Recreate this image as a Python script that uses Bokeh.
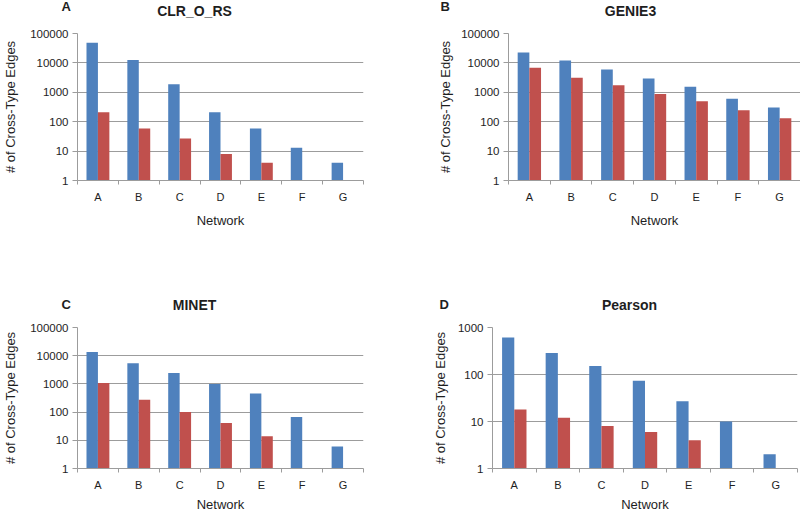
from bokeh.plotting import figure
from bokeh.layouts import column, row
from bokeh.models import Range1d, FixedTicker, PrintfTickFormatter, Label
from bokeh.embed import file_html
from bokeh.resources import INLINE

# ---- data ----
networks = ["A", "B", "C", "D", "E", "F", "G"]

clr_series1 = [48000, 12500, 1870, 208, 59, 13, 4]
clr_series2 = [208, 59, 27, 8, 4, 0, 0]

genie3_series1 = [22500, 12000, 6000, 2950, 1540, 600, 305]
genie3_series2 = [6800, 3100, 1750, 870, 500, 246, 132]

minet_series1 = [13400, 5400, 2450, 1000, 460, 67, 6]
minet_series2 = [1070, 275, 100, 41, 14, 0, 0]

pearson_series1 = [615, 286, 152, 74, 27, 10, 2]
pearson_series2 = [18, 12, 8, 6, 4, 0, 0]

yticks_wide = [1, 10, 100, 1000, 10000, 100000]
yticks_narrow = [1, 10, 100, 1000]

panel_letters = ["A", "B", "C", "D"]
panel_titles = ["CLR_O_RS", "GENIE3", "MINET", "Pearson"]
y_title = "# of Cross-Type Edges"
x_title = "Network"

# ---- styling ----
BLUE = "#4F81BD"
RED = "#C0504D"
GRID = "#9c9c9c"
TXT = "#1e1e1e"
FONT = "Liberation Sans"
BAR_W = 0.28


def make_strip(w, h, letter, letter_x, letter_y, title, title_x, title_y):
    s = figure(width=w, height=h, output_backend="svg", toolbar_location=None,
               title=None, x_range=Range1d(0, w), y_range=Range1d(0, h),
               x_axis_location=None, y_axis_location=None,
               min_border=0, min_border_left=0, min_border_right=0,
               min_border_top=0, min_border_bottom=0)
    s.outline_line_color = None
    s.grid.visible = False
    s.background_fill_color = "white"
    s.border_fill_color = "white"
    s.add_layout(Label(x=letter_x, y=letter_y, x_units="screen", y_units="screen",
                       text=letter, text_font=FONT, text_font_size="13px",
                       text_font_style="bold", text_color=TXT,
                       text_align="left", text_baseline="middle"))
    s.add_layout(Label(x=title_x, y=title_y, x_units="screen", y_units="screen",
                       text=title, text_font=FONT, text_font_size="14px",
                       text_font_style="bold", text_color=TXT,
                       text_align="center", text_baseline="middle"))
    return s


def make_panel(s1, s2, yticks, w, h, borders, ylab_standoff, tick_standoff,
               xlab_standoff):
    bl, br, bt, bb = borders
    p = figure(width=w, height=h, output_backend="svg", toolbar_location=None,
               title=None, x_range=Range1d(0, len(networks)),
               y_range=Range1d(yticks[0], yticks[-1]), y_axis_type="log",
               min_border_left=bl, min_border_right=br,
               min_border_top=bt, min_border_bottom=bb)
    p.outline_line_color = None
    p.background_fill_color = "white"
    p.border_fill_color = "white"

    # bars (zero values are not drawn on the log axis)
    x1, t1, x2, t2 = [], [], [], []
    for i, (a, b) in enumerate(zip(s1, s2)):
        if a > 0:
            x1.append(i + 0.5 - BAR_W / 2)
            t1.append(a)
        if b > 0:
            x2.append(i + 0.5 + BAR_W / 2)
            t2.append(b)
    p.vbar(x=x1, top=t1, bottom=1, width=BAR_W, fill_color=BLUE, line_color=None)
    p.vbar(x=x2, top=t2, bottom=1, width=BAR_W, fill_color=RED, line_color=None)

    # y axis
    yt = FixedTicker(ticks=yticks, minor_ticks=[])
    p.yaxis.ticker = yt
    p.yaxis.formatter = PrintfTickFormatter(format="%d")
    p.yaxis.axis_line_color = GRID
    p.yaxis.major_tick_line_color = GRID
    p.yaxis.major_tick_out = 5
    p.yaxis.major_tick_in = 0
    p.yaxis.minor_tick_line_color = None
    p.yaxis.major_label_standoff = 4
    p.yaxis.major_label_text_font = FONT
    p.yaxis.major_label_text_font_size = "11.5px"
    p.yaxis.major_label_text_color = TXT
    p.yaxis.axis_label = y_title
    p.yaxis.axis_label_text_font = FONT
    p.yaxis.axis_label_text_font_size = "13px"
    p.yaxis.axis_label_text_font_style = "normal"
    p.yaxis.axis_label_text_color = TXT
    p.yaxis.axis_label_standoff = ylab_standoff
    p.ygrid.ticker = yt
    p.ygrid.grid_line_color = GRID
    p.ygrid.grid_line_width = 1
    p.xgrid.visible = False

    # x axis: labels at category centres, tick marks at category boundaries
    n = len(networks)
    centres = [i + 0.5 for i in range(n)]
    xt = FixedTicker(ticks=centres, minor_ticks=list(range(n + 1)))
    p.xaxis.ticker = xt
    p.xaxis.major_label_overrides = {c: lab for c, lab in zip(centres, networks)}
    p.xaxis.axis_line_color = GRID
    p.xaxis.major_tick_line_color = None
    p.xaxis.major_tick_out = 0
    p.xaxis.major_tick_in = 0
    p.xaxis.minor_tick_line_color = GRID
    p.xaxis.minor_tick_out = 4
    p.xaxis.minor_tick_in = 0
    p.xaxis.major_label_standoff = tick_standoff
    p.xaxis.major_label_text_font = FONT
    p.xaxis.major_label_text_font_size = "11px"
    p.xaxis.major_label_text_color = TXT
    p.xaxis.axis_label = x_title
    p.xaxis.axis_label_text_font = FONT
    p.xaxis.axis_label_text_font_size = "13px"
    p.xaxis.axis_label_text_font_style = "normal"
    p.xaxis.axis_label_text_color = TXT
    p.xaxis.axis_label_standoff = xlab_standoff
    return p


# top row: strip (page y 0..25) + panels (page y 25..257)
sA = make_strip(400, 25, panel_letters[0], 61, 19, panel_titles[0], 194, 15)
sB = make_strip(400, 25, panel_letters[1], 40, 19, panel_titles[1], 230, 15)
pA = make_panel(clr_series1, clr_series2, yticks_wide, 400, 232, (70, 37, 8, 77),
                9, 6, 7)
pB = make_panel(genie3_series1, genie3_series2, yticks_wide, 400, 232, (108, 0, 8, 77),
                5, 6, 7)

# bottom row: strip (page y 257..318) + panels (page y 318..514)
sC = make_strip(400, 61, panel_letters[2], 61, 14, panel_titles[2], 194, 14)
sD = make_strip(400, 61, panel_letters[3], 39, 14, panel_titles[3], 229, 14)
pC = make_panel(minet_series1, minet_series2, yticks_wide, 400, 196, (70, 37, 9, 40),
                9, 6, 3)
pD = make_panel(pearson_series1, pearson_series2, yticks_narrow, 400, 196, (92, 3, 9, 40),
                7, 6, 3)

layout = column(row(sA, sB), row(pA, pB), row(sC, sD), row(pC, pD))
open("out.html", "w").write(file_html(layout, INLINE))
